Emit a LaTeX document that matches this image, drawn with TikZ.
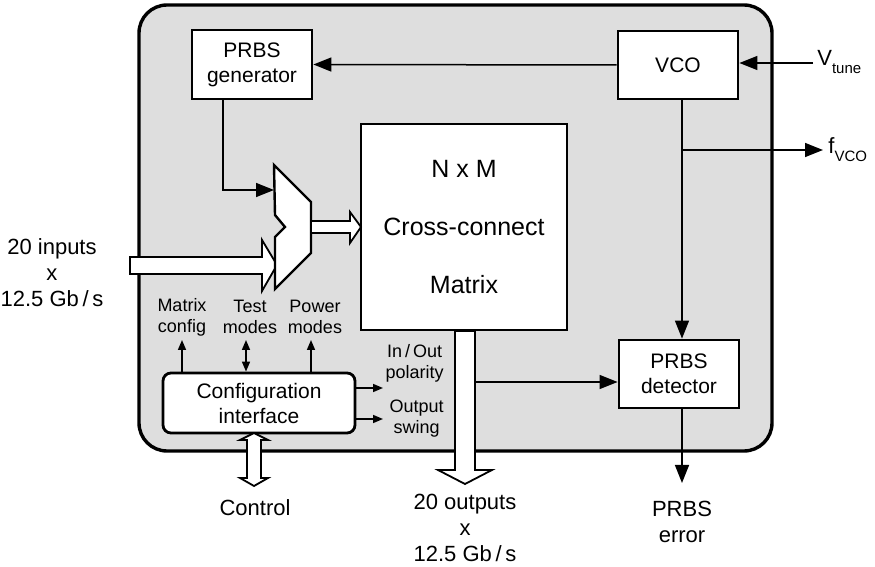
\documentclass[tikz,border=0pt]{standalone}
\usepackage{fontspec}
\setmainfont{Liberation Sans}
\usetikzlibrary{arrows.meta,positioning}

\begin{document}
\begin{tikzpicture}[x=0.5pt,y=-0.5pt]
\tikzstyle{blk}=[draw,line width=1.4pt,fill=white,inner sep=0pt,align=center,font=\fontsize{10.5}{12.5}\selectfont]
\tikzstyle{lbl}=[inner sep=0pt,align=center,font=\fontsize{9}{10.5}\selectfont]
\tikzstyle{io}=[inner sep=0pt,align=center,font=\fontsize{11}{13}\selectfont]
\tikzstyle{sig}=[line width=0.75pt,-{Triangle[length=9pt,width=7pt]}]
\tikzstyle{ctl}=[line width=0.75pt,-{Triangle[length=5pt,width=4pt]}]
\tikzstyle{bus}=[draw,line width=0.9pt,fill=white,line join=miter]

\useasboundingbox (0,0) rectangle (875,567);
% chip outline
\draw[line width=1.7pt,fill=black!13,rounded corners=14pt] (139,5) rectangle (772,451);

% blocks
\node[blk,minimum width=60pt,minimum height=34.5pt] (gen) at (252,64.5) {PRBS\\generator};
\node[blk,minimum width=60pt,minimum height=34pt] (vco) at (678,65) {VCO};
\node[blk,minimum width=60pt,minimum height=34pt] (det) at (679,374) {PRBS\\detector};
\node[blk,minimum width=103pt,minimum height=103pt,font=\fontsize{12.5}{29}\selectfont] (xc) at (464,227) {N x M\\Cross-connect\\Matrix};
\node[blk,rounded corners=4pt,minimum width=96pt,minimum height=30pt] (cfg) at (259,403) {Configuration\\interface};

% input bus (behind the mux)
\draw[bus] (130,257) -- (262,257) -- (262,240) -- (277,265) -- (262,291) -- (262,274) -- (130,274) -- cycle;
% mux
\draw[line width=1.2pt,fill=white,line join=miter] (274,165) -- (311,202) -- (311,253) -- (275,289) -- (275,237) -- (285,227) -- (275,215) -- cycle;
\coordinate (muxin) at (274,190);
% mux to matrix
\draw[bus] (311,221) -- (350,221) -- (350,212) -- (361,227) -- (350,243) -- (350,233) -- (311,233) -- cycle;
% output bus
\draw[bus] (455,331) -- (455,470) -- (438,470) -- (465,484) -- (492,470) -- (475,470) -- (475,331) -- cycle;
% control port
\draw[bus] (254,433) -- (268,440) -- (261,440) -- (261,478) -- (268,478) -- (254,486) -- (240,478) -- (247,478) -- (247,440) -- (240,440) -- cycle;

% signals
\coordinate (tap) at (682,150);
\coordinate (fv) at (823,150);
\coordinate (vt) at (813,63);
\coordinate (bt) at (475,382);
\coordinate (err) at (682,483);
\draw[sig] (vco.west) -- (gen.east);
\draw[sig] (vt) -- (vco.east |- vt);
\draw[line width=0.75pt] (vco.south -| tap) -- (tap);
\draw[sig] (tap) -- (det.north -| tap);
\draw[sig] (tap) -- (fv);
\draw[sig] ([xshift=-14.5pt]gen.south) |- (muxin);
\draw[sig] (bt) -- (det.west |- bt);
\draw[sig] (det.south -| err) -- (err);

% configuration outputs
\draw[ctl] (cfg.north -| 182,0) -- (182,340);
\draw[ctl,{Triangle[length=5pt,width=4pt]}-{Triangle[length=5pt,width=4pt]}] (cfg.north -| 246,0) -- (246,340);
\draw[ctl] (cfg.north -| 311,0) -- (311,340);
\draw[ctl] (cfg.east |- 0,388) -- (383,388);
\draw[ctl] (cfg.east |- 0,419) -- (383,419);

% labels
\node[lbl] (mcfg) at (182,317) {Matrix\\config};
\node[lbl] (tmod) at (250,317) {Test\\modes};
\node[lbl] (pmod) at (315,317) {Power\\modes};
\node[lbl,anchor=east] (pol) at (444,363) {In\,/\,Out\\polarity};
\node[lbl,anchor=east] (swg) at (444,419) {Output\\swing};
\node[io] (inp) at (52,273) {20 inputs\\x\\12.5 Gb\,/\,s};
\node[io] (outp) at (465,528) {20 outputs\\x\\12.5 Gb\,/\,s};
\node[io] (ctrl) at (255,508) {Control};
\node[io] (perr) at (682,522) {PRBS\\error};
\node[io,anchor=west] (vtl) at (817,62) {V\raisebox{-0.7ex}{\fontsize{7.5}{8}\selectfont tune}};
\node[io,anchor=west] (fvl) at (828,150) {f\raisebox{-0.7ex}{\fontsize{7.5}{8}\selectfont VCO}};
\end{tikzpicture}
\end{document}
